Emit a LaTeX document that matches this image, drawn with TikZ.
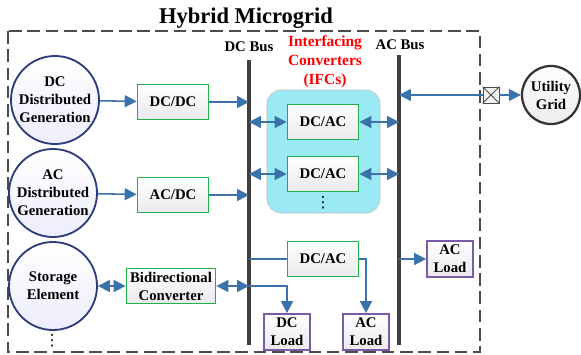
\documentclass[tikz,border=0pt]{standalone}
\usepackage{fontspec}
\setmainfont{Liberation Serif}
\newfontfamily\symfont{DejaVu Sans}
\usetikzlibrary{arrows.meta}

\definecolor{flowblue}{HTML}{3C72AA}
\definecolor{convgreen}{HTML}{1FB04A}
\definecolor{loadpurple}{HTML}{7A5BA6}
\definecolor{srcnavy}{HTML}{2E3C7C}
\definecolor{ifccyan}{HTML}{9CE9F6}

\begin{document}
\begin{tikzpicture}[
    x=0.025cm, y=-0.025cm,
    every node/.style={font=\fontsize{10.5}{12.8}\selectfont\bfseries, align=center},
    source/.style={circle, draw=srcnavy, line width=1.3pt, minimum size=2.2cm,
      inner sep=0pt, top color=white, bottom color=gray!25!blue!8},
    conv/.style={rectangle, draw=convgreen, line width=1.2pt, minimum width=1.775cm,
      minimum height=0.875cm, inner sep=1pt, top color=white, bottom color=blue!10!gray!15},
    load/.style={rectangle, draw=loadpurple, line width=1.2pt, minimum width=1.15cm,
      minimum height=0.9cm, inner sep=1pt, top color=white, bottom color=blue!10!gray!15},
    dots/.style={font=\symfont\fontsize{11}{11}\selectfont, inner sep=0pt},
    bus/.style={line width=2.2pt, black!75},
    flow/.style={draw=flowblue, line width=1.1pt, -{Triangle[width=8.5pt,length=8.5pt]}},
    biflow/.style={draw=flowblue, line width=1.1pt,
      {Triangle[width=8.5pt,length=8.5pt]}-{Triangle[width=8.5pt,length=8.5pt]}},
    wire/.style={draw=flowblue, line width=1.1pt}
  ]
  \useasboundingbox (0,0) rectangle (581,355);

  % Title and frame
  \node[font=\fontsize{16}{18}\selectfont\bfseries] (title) at (246,18) {Hybrid Microgrid};
  \draw[black!70, line width=0.8pt, dash pattern=on 9pt off 4pt] (8,31) rectangle (480,352);

  % Buses
  \node (dclabel) at (249,47) {DC Bus};
  \node (aclabel) at (400,45) {AC Bus};
  \coordinate (dcT) at (249,60);
  \coordinate (dcB) at (249,345);
  \coordinate (acT) at (399,55);
  \coordinate (acB) at (399,345);

  % Interfacing converters
  \node[text=red, font=\fontsize{11}{13.5}\selectfont\bfseries] (ifclabel) at (325,62)
    {Interfacing\\Converters\\(IFCs)};
  \draw[fill=ifccyan, draw=black!25, rounded corners=0.35cm] (267,90) rectangle (380,213);
  \node[conv] (dcac1) at (323,122) {DC/AC};
  \node[conv] (dcac2) at (323,174) {DC/AC};
  \node[dots] (ifcdots) at (323,203) {⋮};

  \draw[bus] (dcT) -- (dcB);
  \draw[bus] (acT) -- (acB);

  % Sources
  \node[source] (dcdg) at (55,100) {DC\\Distributed\\Generation};
  \node[source] (acdg) at (53,193) {AC\\Distributed\\Generation};
  \node[source] (store) at (53,286) {Storage\\Element};
  \node[dots] (srcdots) at (52,341) {⋮};

  % Converters
  \node[conv] (dcdc) at (173,102) {DC/DC};
  \node[conv] (acdc) at (173,195) {AC/DC};
  \node[conv, minimum width=2.225cm] (bidir) at (171,286) {Bidirectional\\Converter};
  \node[conv] (dcac3) at (323,259) {DC/AC};

  % Loads
  \node[load] (acload1) at (450,259) {AC\\Load};
  \node[load] (dcload) at (287,332) {DC\\Load};
  \node[load] (acload2) at (366,332) {AC\\Load};

  % Utility side
  \node[draw=black!70, fill=gray!10, line width=0.6pt, minimum size=0.4cm, inner sep=0pt] (brk) at (491,95) {};
  \draw[black!70, line width=0.6pt] (brk.north west) -- (brk.south east)
    (brk.north east) -- (brk.south west);
  \node[circle, draw=black!80, line width=1.6pt, minimum size=1.45cm, inner sep=0pt,
    top color=white, bottom color=gray!15] (grid) at (551,95) {Utility\\Grid};

  % Arrows
  \draw[flow] (dcdg) -- (dcdc);
  \draw[flow] (dcdc) -- (dcdc -| dcT);
  \draw[flow] (acdg) -- (acdc);
  \draw[flow] (acdc) -- (acdc -| dcT);
  \draw[biflow] (store) -- (bidir);
  \draw[biflow] (bidir) -- (bidir -| dcT);
  \draw[biflow] (dcac1 -| dcT) -- (dcac1);
  \draw[biflow] (dcac1) -- (dcac1 -| acT);
  \draw[biflow] (dcac2 -| dcT) -- (dcac2);
  \draw[biflow] (dcac2) -- (dcac2 -| acT);
  \draw[wire] (dcac3 -| dcT) -- (dcac3);
  \draw[flow] (dcac3.east) -| (acload2.north);
  \draw[flow] (bidir -| dcT) -| (dcload.north);
  \draw[flow] (acload1 -| acT) -- (acload1);
  \draw[flow] (brk) -- (brk -| acT);
  \draw[flow] (brk) -- (grid);
\end{tikzpicture}
\end{document}
